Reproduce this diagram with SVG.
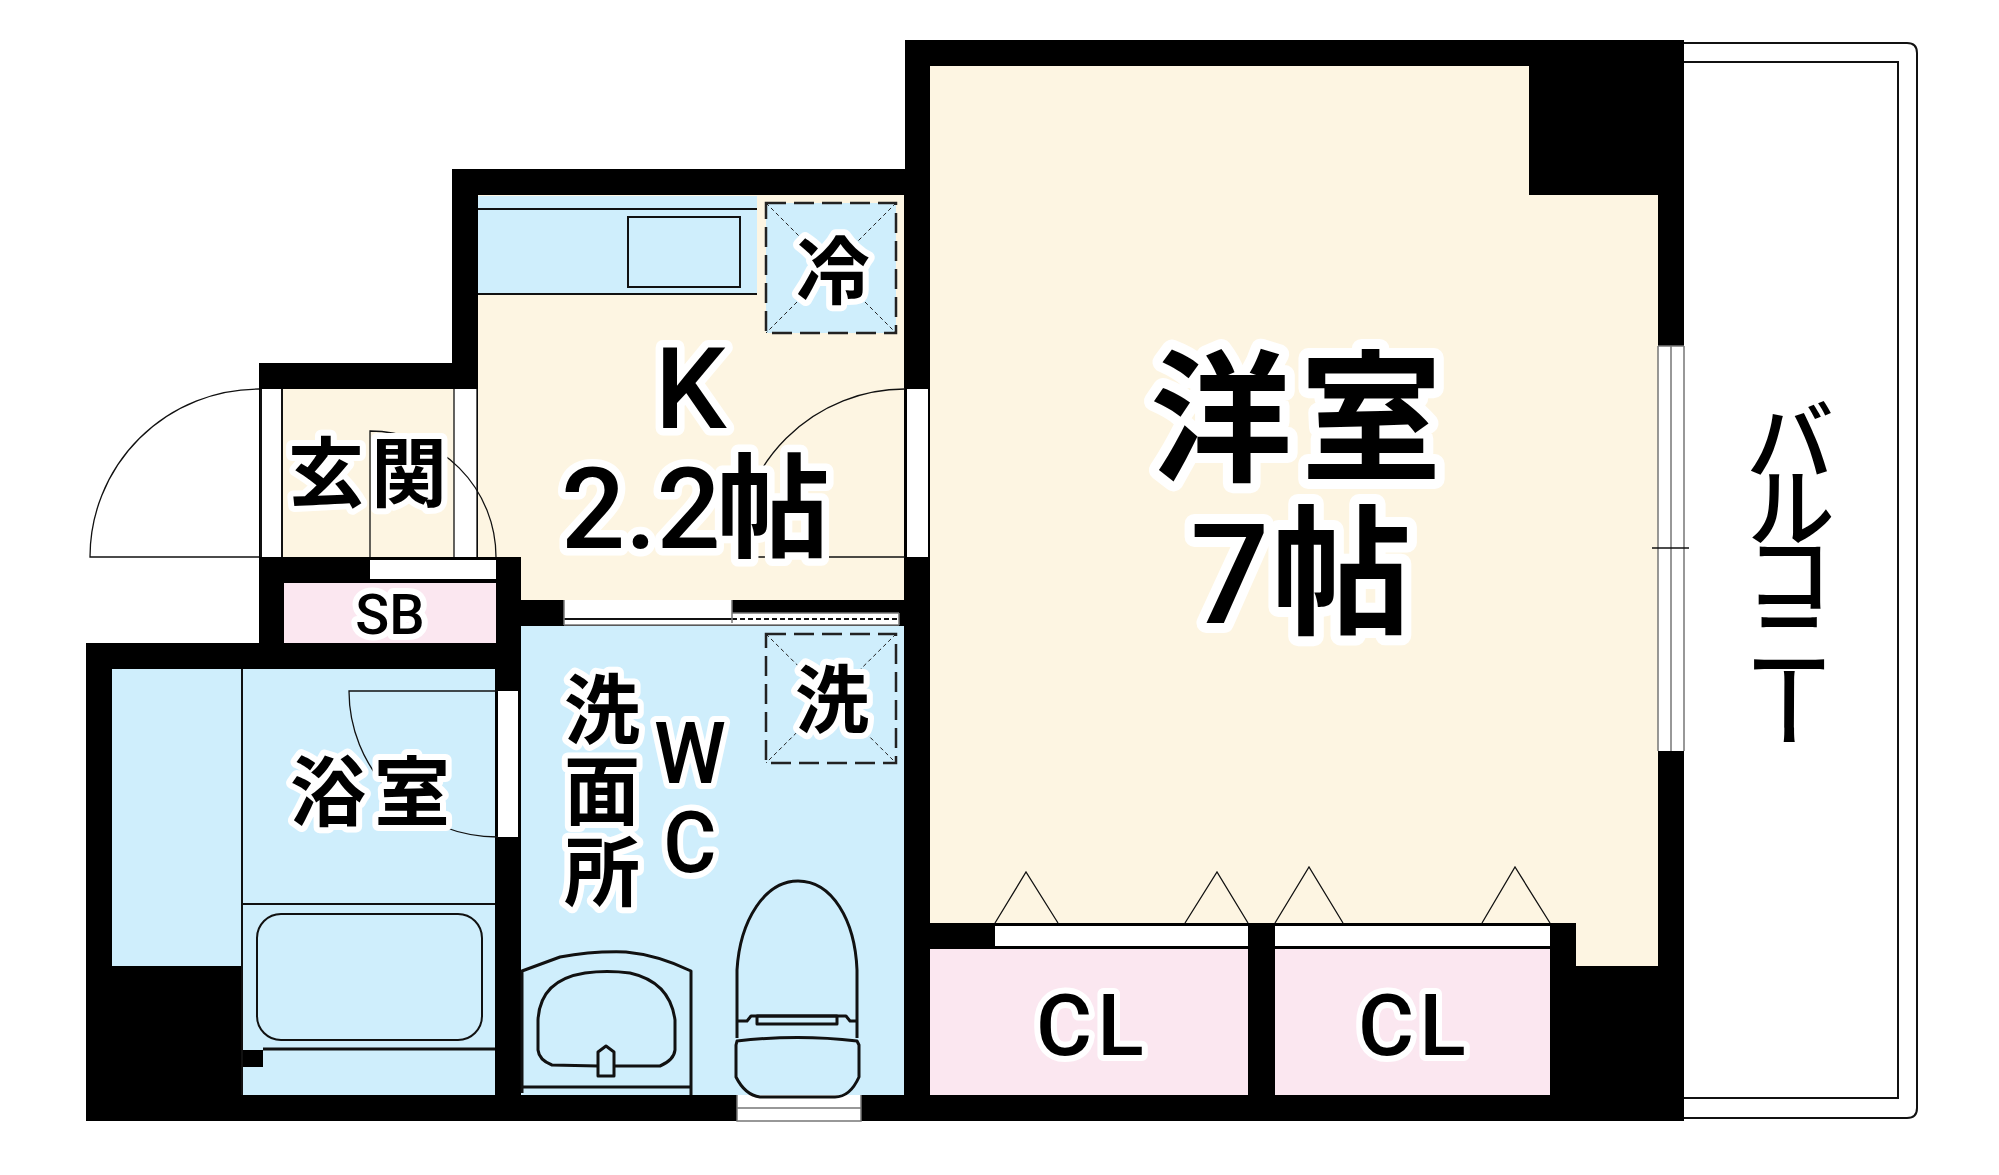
<svg xmlns="http://www.w3.org/2000/svg" width="1999" height="1175" viewBox="0 0 1999 1175">
<style>
.blue{fill:#cfeefc}.beige{fill:#fdf5e2}.pink{fill:#fbe7f0}.wall{fill:#000}
.pane{fill:#fff}
.thin{fill:none;stroke:#111;stroke-width:1.3}
.line{fill:none;stroke:#111;stroke-width:2}
.fix{fill:none;stroke:#111;stroke-width:3;stroke-linejoin:round}
.dash{fill:none;stroke:#222;stroke-width:2.5;stroke-dasharray:20 8}
.diag{fill:none;stroke:#222;stroke-width:1;stroke-dasharray:4 3}
.grey{fill:none;stroke:#777;stroke-width:1.5}
text{font-family:"Roboto","Noto Sans CJK JP",sans-serif;fill:#000;paint-order:stroke;stroke:#fff;stroke-linejoin:round;stroke-width:12px;font-weight:500}
.cjk{font-family:"Noto Sans CJK JP",sans-serif;font-weight:700}
.big{stroke-width:20px}
.mid{stroke-width:15px}
.none{stroke:none}
.v{writing-mode:vertical-rl}
</style>
<g id="balcony">
<path class="line" d="M1684 43H1907Q1917 43 1917 53V1108Q1917 1118 1907 1118H1684"/>
<path class="line" d="M1684 62H1898V1098H1684"/>
</g>
<path id="walls" class="wall" d="M905 40H1684V1121H86V643H259V363H452V169H905Z"/>
<g id="rooms">
<path id="room-yoshitsu" class="beige" d="M930 66H1529V195H1658V966H1576V923H930Z"/>
<path id="room-k" class="beige" d="M478 195H904V600H521V557H478Z"/>
<rect id="room-genkan" class="beige" x="282" y="389" width="172" height="168"/>
<rect id="kitchen" class="blue" x="478" y="196" width="279" height="98"/>
<rect id="fridge" class="blue" x="766" y="203" width="130" height="130"/>
<rect id="room-sb" class="pink" x="284" y="583" width="212" height="60"/>
<rect id="room-wash" class="blue" x="521" y="626" width="383" height="469"/>
<rect id="room-bath" class="blue" x="242" y="669" width="253" height="426"/>
<rect id="bath-strip" class="blue" x="112" y="669" width="129" height="297"/>
<rect class="wall" x="242" y="1050" width="21" height="17"/>
<rect id="room-cl1" class="pink" x="930" y="949" width="318" height="146"/>
<rect id="room-cl2" class="pink" x="1275" y="949" width="275" height="146"/>
</g>
<g id="openings">
<rect class="pane" x="261" y="389" width="21" height="168"/>
<path class="line" d="M261 389V557M282 389V557"/>
<rect class="pane" x="454" y="389" width="23" height="168"/>
<path class="thin" d="M454 389V557M477 389V557"/>
<rect class="pane" x="907" y="389" width="21" height="168"/>
<rect class="pane" x="370" y="560" width="126" height="19"/>
<rect class="pane" x="498" y="691" width="20" height="146"/>
<rect class="pane" x="564" y="600" width="168" height="25"/>
<rect class="pane" x="732" y="613" width="167" height="12"/>
<path class="line" d="M564 619H732"/>
<path class="fix" style="stroke-width:2;stroke-dasharray:5 3" d="M732 619H899"/>
<path class="grey" d="M564 600V625M732 600V623M899 613V625M732 613H899M564 625H899"/>
<rect class="pane" x="995" y="926" width="253" height="20"/>
<rect class="pane" x="1275" y="926" width="275" height="20"/>
<rect class="pane" x="737" y="1095" width="124" height="26"/>
<path class="grey" d="M737 1108H861M737 1095V1121H861V1095"/>
<rect class="pane" x="1658" y="346" width="26" height="405"/>
<path class="grey" d="M1658 346V751M1671 346V751M1684 346V751M1658 346H1684"/>
<path class="line" style="stroke-width:1.3" d="M1652 548H1689"/>
</g>
<g id="doors">
<path class="thin" d="M259 389A169 168 0 0 0 90 557H259"/>
<path class="thin" d="M370 557V431A126 126 0 0 1 496 557"/>
<path class="thin" d="M905 389A168 168 0 0 0 737 557H905"/>
<path class="thin" d="M498 691H349A149 146 0 0 0 498 837"/>
<path class="thin" d="M995 923L1026 872L1058 923M1185 923L1217 872L1248 923M1275 923L1309 867L1343 923M1482 923L1515 867L1550 923"/>
</g>
<g id="fixtures">
<path class="line" d="M478 209H757M478 294H757"/>
<rect class="line" x="628" y="217" width="112" height="70"/>
<path class="line" d="M242 669V1095M242 904H495"/>
<rect class="line" x="257" y="914" width="225" height="126" rx="24"/>
<path class="fix" d="M263 1049H495"/>
<rect class="dash" x="766" y="203" width="130" height="130"/>
<path class="diag" d="M766 203L896 333M896 203L766 333"/>
<rect class="dash" x="766" y="634" width="130" height="129"/>
<path class="diag" d="M766 634L896 763M896 634L766 763"/>
<path id="sink" class="fix" d="M522 1093V971L560 957Q592 951 626 952Q658 955 691 971V1095M522 1087H691"/>
<path id="basin" class="fix" d="M598 1066L552 1065Q539 1060 538 1050V1020Q540 980 585 973Q607 970 630 973Q670 982 675 1020V1050Q674 1060 660 1066L614 1066"/>
<path id="tap" class="fix" d="M598 1076V1052L606 1046L614 1052V1076Z"/>
<path id="toilet" class="fix" d="M737 1038V970C740 920 765 881 798 881C832 881 855 920 857 970V1038"/>
<path class="fix" d="M737 1021H747L751 1016H846L850 1021H857"/>
<rect class="fix" x="757" y="1016" width="80" height="8"/>
<path class="fix" d="M737 1041Q798 1034 857 1041L859 1045V1077Q850 1097 835 1097H760Q745 1095 736 1077V1045Z"/>
</g>
<g id="labels">
<text class="cjk big" x="1150" y="470" font-size="142" letter-spacing="8">洋室</text>
<text class="big" x="1190" y="623" font-size="140">7<tspan class="cjk" dx="2">帖</tspan></text>
<text class="mid" x="655" y="428" font-size="113">K</text>
<text class="mid" x="561" y="548" font-size="113">2.2<tspan class="cjk" dx="-4">帖</tspan></text>
<text class="cjk" x="288" y="501" font-size="76" letter-spacing="7">玄関</text>
<text class="cjk" x="290" y="820" font-size="76" letter-spacing="8">浴室</text>
<text class="cjk" x="796" y="298" font-size="74">冷</text>
<text class="cjk" x="795" y="727" font-size="74">洗</text>
<text class="cjk v" x="602" y="671" font-size="76" letter-spacing="5">洗面所</text>
<text transform="translate(690,783) scale(.95,1)" text-anchor="middle" font-size="86">W</text>
<text transform="translate(690,872) scale(.95,1)" text-anchor="middle" font-size="86">C</text>
<text x="1036" y="1055" font-size="86" letter-spacing="5">CL</text>
<text x="1358" y="1055" font-size="86" letter-spacing="5">CL</text>
<text x="390" y="634" text-anchor="middle" font-size="56">SB</text>
<text class="cjk v none" style="font-weight:500" x="1790" y="395" font-size="90" letter-spacing="-23">バルコニー</text>
</g>
</svg>
